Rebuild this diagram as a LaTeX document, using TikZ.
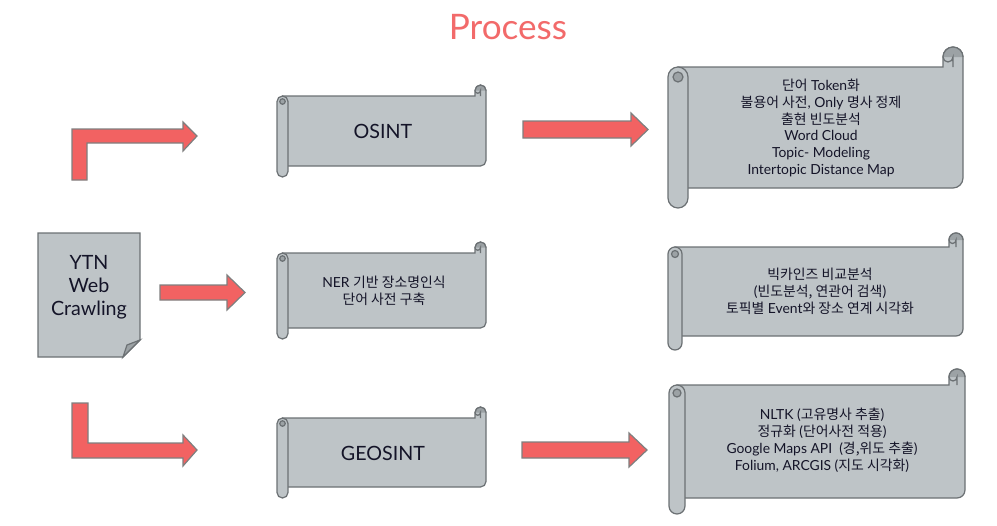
\documentclass[tikz,border=0pt]{standalone}
\usepackage{fontspec}
\setmainfont{Lato}
\newfontfamily\krfont{Noto Sans CJK KR}
\newcommand{\kr}[1]{{\krfont #1}}

\definecolor{scrollfill}{HTML}{BEC4C7}
\definecolor{scrolldark}{HTML}{9CA2A5}
\definecolor{scrollgray}{HTML}{6C7174}
\definecolor{arrowred}{HTML}{F26262}
\definecolor{arrowgray}{HTML}{7F7F7F}
\definecolor{titlered}{HTML}{F26A6A}
\definecolor{textcol}{HTML}{141428}

% scroll: left, top, right, bottom, roll size (pixels, y downwards)
\newcommand{\scrollshape}[5]{%
	\pgfmathsetmacro\sxL{#1}\pgfmathsetmacro\syT{#2}%
	\pgfmathsetmacro\sxR{#3}\pgfmathsetmacro\syB{#4}%
	\pgfmathsetmacro\scC{#5}\pgfmathsetmacro\scH{#5/2}%
	\filldraw[scrollline, fill=scrollfill]
		({\sxL+\scH}, {-\syT-\scC}) -- ({\sxR-\scC}, {-\syT-\scC}) -- ({\sxR-\scC}, {-\syT-\scH})
		arc[start angle=180, end angle=0, radius=\scH] -- (\sxR, {-\syB+\scC+\scH})
		arc[start angle=0, end angle=-90, radius=\scH] -- ({\sxL+\scH}, {-\syB+\scC}) -- cycle;
	\fill[scrolldark] ({\sxR-\scC}, {-\syT-\scH}) arc[start angle=180, end angle=0, radius=\scH] -- cycle;
	\draw[scrollline] ({\sxR-\scC}, {-\syT-\scH}) arc[start angle=180, end angle=0, radius=\scH];
	\draw[scrollline] ({\sxR-\scH}, {-\syT-\scC}) -- ({\sxR-\scH}, {-\syT-\scH})
		arc[start angle=0, end angle=-180, radius=\scH/2];
	\filldraw[scrollline, fill=scrollfill]
		({\sxL+\scC}, {-\syT-\scC-\scH}) arc[start angle=0, end angle=180, radius=\scH]
		-- (\sxL, {-\syB+\scH}) arc[start angle=180, end angle=360, radius=\scH] -- cycle;
	\filldraw[scrollline, fill=scrolldark] ({\sxL+\scH}, {-\syT-\scC-\scH}) circle[radius=\scH/2];
}

\begin{document}
\begin{tikzpicture}
	[x=0.02cm, y=0.02cm, line width=0.6,
	scrollline/.style = {
		draw=scrollgray,
		line width=0.7pt
	},
	docline/.style = {
		draw=scrollgray,
		line width=0.7pt
	},
	blockarrow/.style = {
		fill=arrowred,
		draw=arrowgray,
		line width=0.7pt
	},
	bigtext/.style = {
		font=\fontsize{11.2}{13}\selectfont,
		align=center,
		text=textcol,
		inner sep=0pt
	},
	smalltext/.style = {
		font=\fontsize{7.9}{9.6}\selectfont,
		align=center,
		text=textcol,
		inner sep=0pt
	}]

	\useasboundingbox (0,0) rectangle (997,-525);

	%Draw title
	\node[font=\fontsize{20}{24}\selectfont, text=titlered] at (508,-27) (title) {Process};

	%Draw document
	\filldraw[docline, fill=scrollfill] (38,-233) -- (140,-233) -- (140,-340) -- (123,-357) -- (38,-357) -- cycle;
	\filldraw[docline, fill=scrolldark] (140,-340) -- (127,-345) -- (123,-357) -- cycle;
	\node[bigtext] at (89,-287) (ytn) {YTN\\Web\\Crawling};

	%Draw scrolls
	\scrollshape{277}{85}{486}{177}{11}
	\scrollshape{277}{242}{486}{339}{11}
	\scrollshape{277}{407}{486}{498}{11}
	\scrollshape{668}{47}{963}{208}{20}
	\scrollshape{668}{233}{963}{350}{14}
	\scrollshape{669}{369}{965}{514}{16}

	\node[bigtext] at (383,-131) (osint) {OSINT};
	\node[smalltext] at (384,-291) (ner) {NER \kr{기반 장소명인식}\\\kr{단어 사전 구축}};
	\node[bigtext] at (383,-453) (geosint) {GEOSINT};

	\node[smalltext] at (821,-128) (text) {\kr{단어} Token\kr{화}\\\kr{불용어 사전}, Only \kr{명사 정제}\\\kr{출현 빈도분석}\\Word Cloud\\Topic- Modeling\\Intertopic Distance Map};
	\node[smalltext] at (820,-291) (bigkinds) {\kr{빅카인즈 비교분석}\\(\kr{빈도분석, 연관어 검색})\\\kr{토픽별} Event\kr{와 장소 연계 시각화}};
	\node[smalltext] at (822,-440) (geo) {NLTK (\kr{고유명사 추출})\\\kr{정규화} (\kr{단어사전 적용})\\Google Maps API\ \ (\kr{경,위도 추출})\\Folium, ARCGIS (\kr{지도 시각화})};

	%Draw arrows
	\filldraw[blockarrow] (72,-180) -- (72,-129) -- (183,-129) -- (183,-122) -- (197,-136)
		-- (183,-151) -- (183,-143) -- (87,-143) -- (87,-180) -- cycle;
	\filldraw[blockarrow] (160,-285) -- (227,-285) -- (227,-275) -- (245,-292.5)
		-- (227,-310) -- (227,-300) -- (160,-300) -- cycle;
	\filldraw[blockarrow] (72,-403) -- (88,-403) -- (88,-443) -- (183,-443) -- (183,-435)
		-- (197,-450) -- (183,-466) -- (183,-458) -- (72,-458) -- cycle;

	\filldraw[blockarrow] (523,-121) -- (631,-121) -- (631,-113) -- (648,-129.5)
		-- (631,-146) -- (631,-138) -- (523,-138) -- cycle;
	\filldraw[blockarrow] (522,-442) -- (629,-442) -- (629,-433) -- (647,-450)
		-- (629,-467) -- (629,-458) -- (522,-458) -- cycle;

\end{tikzpicture}
\end{document}
